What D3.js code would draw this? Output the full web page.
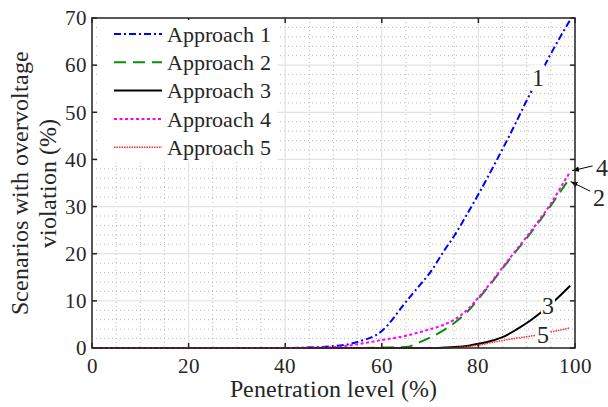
<!DOCTYPE html>
<html>
<head>
<meta charset="utf-8">
<script src="https://cdn.jsdelivr.net/npm/d3@7"></script>
<style>
  @font-face { font-family: 'ChartSerif'; src: local('Liberation Serif'), local('LiberationSerif'), local('LiberationSerif-Regular'); }
  body { margin: 0; background: #fff; }
  #fig svg text { font-family: ChartSerif, 'Liberation Serif', 'Times New Roman', serif; fill: #262626; }
</style>
</head>
<body>
<div id="fig"></div>
<script>
// penetration level (%) sample points
var penetration = [1, 40, 50, 55, 60, 65, 68, 70, 73, 75, 78, 80, 83, 85, 88, 90, 93, 95, 97, 99];

// scenarios with overvoltage violation (%)
var approach1 = [0, 0, 0.4, 1.3, 3.6, 9.8, 13.5, 16, 20.8, 23.8, 29, 32.6, 38.3, 42.2, 48.3, 52.5, 58.5, 62.4, 66.1, 69.6];
var approach2 = [0, 0, 0, 0, 0.1, 0.2, 1.3, 2.2, 3.9, 5.3, 8, 10.4, 14.2, 16.9, 20.8, 23.3, 27.4, 30.2, 33.2, 36.2];
var approach3 = [0, 0, 0, 0, 0, 0, 0, 0, 0.1, 0.2, 0.5, 0.9, 1.6, 2.3, 4, 5.3, 7.6, 9.3, 11.2, 13.2];
var approach4 = [0, 0, 0.2, 0.8, 1.7, 2.6, 3.4, 4, 5, 6, 8.4, 10.7, 14.4, 17.1, 21, 23.6, 27.7, 30.6, 34, 37.4];
var approach5 = [0, 0, 0, 0, 0, 0, 0, 0, 0.05, 0.1, 0.35, 0.6, 1.2, 1.6, 2.1, 2.4, 2.9, 3.4, 3.8, 4.3];

var series_names = ['Approach 1', 'Approach 2', 'Approach 3', 'Approach 4', 'Approach 5'];
var x_ticks = [0, 20, 40, 60, 80, 100];
var y_ticks = [0, 10, 20, 30, 40, 50, 60, 70];

var series = [
  { name: series_names[0], values: approach1, color: '#0000ff', dash: '7,3,2,3', width: 2 },
  { name: series_names[1], values: approach2, color: '#0a8f0a', dash: '12,7', width: 2 },
  { name: series_names[2], values: approach3, color: '#000000', dash: null, width: 2 },
  { name: series_names[3], values: approach4, color: '#ff00ff', dash: '3,2.5', width: 2 },
  { name: series_names[4], values: approach5, color: '#ff2a2a', dash: '1.5,1', width: 1.5 }
];

var chart_width = 608;
var chart_height = 407;
var margin = { top: 18, right: 33, bottom: 59, left: 92 };
var plot_w = chart_width - margin.left - margin.right;
var plot_h = chart_height - margin.top - margin.bottom;

var svg = d3.select('#fig')
  .append('svg')
  .attr('width', chart_width)
  .attr('height', chart_height);

var g = svg.append('g')
  .attr('transform', 'translate(' + margin.left + ',' + margin.top + ')');

var x_scale = d3.scaleLinear().domain([0, 100]).range([0, plot_w]);
var y_scale = d3.scaleLinear().domain([0, 70]).range([plot_h, 0]);

// minor grid (dotted)
g.selectAll('.minor-x')
  .data(d3.range(0, 101, 5).filter(function(d) { return d % 20 !== 0; }))
  .enter().append('line')
  .attr('x1', function(d) { return x_scale(d); })
  .attr('x2', function(d) { return x_scale(d); })
  .attr('y1', 0).attr('y2', plot_h)
  .attr('stroke', '#b8b8b8').attr('stroke-width', 1)
  .attr('stroke-dasharray', '1,3');

g.selectAll('.minor-y')
  .data(d3.range(0, 71, 2).filter(function(d) { return d % 10 !== 0; }))
  .enter().append('line')
  .attr('x1', 0).attr('x2', plot_w)
  .attr('y1', function(d) { return y_scale(d); })
  .attr('y2', function(d) { return y_scale(d); })
  .attr('stroke', '#b8b8b8').attr('stroke-width', 1)
  .attr('stroke-dasharray', '1,3');

// major grid
g.selectAll('.major-x')
  .data(x_ticks)
  .enter().append('line')
  .attr('x1', function(d) { return x_scale(d); })
  .attr('x2', function(d) { return x_scale(d); })
  .attr('y1', 0).attr('y2', plot_h)
  .attr('stroke', '#e3e3e3').attr('stroke-width', 1.2);

g.selectAll('.major-y')
  .data(y_ticks)
  .enter().append('line')
  .attr('x1', 0).attr('x2', plot_w)
  .attr('y1', function(d) { return y_scale(d); })
  .attr('y2', function(d) { return y_scale(d); })
  .attr('stroke', '#e3e3e3').attr('stroke-width', 1.2);

// lines
var line = d3.line()
  .x(function(d, i) { return x_scale(penetration[i]); })
  .y(function(d) { return y_scale(d); })
  .curve(d3.curveMonotoneX);

g.selectAll('.series')
  .data(series)
  .enter().append('path')
  .attr('d', function(d) { return line(d.values); })
  .attr('fill', 'none')
  .attr('stroke', function(d) { return d.color; })
  .attr('stroke-width', function(d) { return d.width; })
  .attr('stroke-dasharray', function(d) { return d.dash; });

// curve labels with white background
var curve_labels = [
  { text: '1', x: 92.3, y: 57.3 },
  { text: '3', x: 94.4, y: 9.1 },
  { text: '5', x: 93.4, y: 2.8 }
];
var lab = g.selectAll('.clabel')
  .data(curve_labels)
  .enter().append('g')
  .attr('transform', function(d) { return 'translate(' + x_scale(d.x) + ',' + y_scale(d.y) + ')'; });
lab.append('rect')
  .attr('x', -7).attr('y', -13).attr('width', 14).attr('height', 26)
  .attr('fill', '#fff');
lab.append('text')
  .text(function(d) { return d.text; })
  .attr('text-anchor', 'middle')
  .attr('dy', '0.35em')
  .attr('font-size', 24);

// arrow labels for 4 and 2
var arrow_labels = [
  { text: '4', x: 105.5, y: 38.2, tx: 99.4, ty: 37.6 },
  { text: '2', x: 105, y: 32, tx: 99.1, ty: 35.3 }
];
svg.append('defs').append('marker')
  .attr('id', 'arrow')
  .attr('viewBox', '0 0 10 10')
  .attr('refX', 10).attr('refY', 5)
  .attr('markerWidth', 7).attr('markerHeight', 7)
  .attr('orient', 'auto')
  .append('path')
  .attr('d', 'M0,1 L10,5 L0,9 z')
  .attr('fill', '#000');

arrow_labels.forEach(function(d) {
  g.append('line')
    .attr('x1', x_scale(d.x) - 9)
    .attr('y1', y_scale(d.y) + (d.text === '4' ? -2 : -6))
    .attr('x2', x_scale(d.tx))
    .attr('y2', y_scale(d.ty))
    .attr('stroke', '#000').attr('stroke-width', 1)
    .attr('marker-end', 'url(#arrow)');
  g.append('text')
    .text(d.text)
    .attr('x', x_scale(d.x))
    .attr('y', y_scale(d.y))
    .attr('text-anchor', 'middle')
    .attr('dy', '0.35em')
    .attr('font-size', 24);
});

// box and ticks
g.append('rect')
  .attr('x', 0).attr('y', 0).attr('width', plot_w).attr('height', plot_h)
  .attr('fill', 'none').attr('stroke', '#262626').attr('stroke-width', 1.5);

x_ticks.forEach(function(t) {
  g.append('line').attr('x1', x_scale(t)).attr('x2', x_scale(t))
    .attr('y1', plot_h).attr('y2', plot_h - 5).attr('stroke', '#262626').attr('stroke-width', 1.5);
  g.append('line').attr('x1', x_scale(t)).attr('x2', x_scale(t))
    .attr('y1', 0).attr('y2', 5).attr('stroke', '#262626').attr('stroke-width', 1.5);
});
y_ticks.forEach(function(t) {
  g.append('line').attr('x1', 0).attr('x2', 5)
    .attr('y1', y_scale(t)).attr('y2', y_scale(t)).attr('stroke', '#262626').attr('stroke-width', 1.5);
  g.append('line').attr('x1', plot_w).attr('x2', plot_w - 5)
    .attr('y1', y_scale(t)).attr('y2', y_scale(t)).attr('stroke', '#262626').attr('stroke-width', 1.5);
});

// tick labels
g.selectAll('.xtl')
  .data(x_ticks)
  .enter().append('text')
  .text(function(d) { return d; })
  .attr('x', function(d) { return x_scale(d); })
  .attr('y', plot_h + 25)
  .attr('text-anchor', 'middle')
  .attr('font-size', 21);

g.selectAll('.ytl')
  .data(y_ticks)
  .enter().append('text')
  .text(function(d) { return d; })
  .attr('x', -5)
  .attr('y', function(d) { return y_scale(d); })
  .attr('dy', '0.35em')
  .attr('text-anchor', 'end')
  .attr('font-size', 21);

// axis titles
svg.append('text')
  .text('Penetration level (%)')
  .attr('x', margin.left + plot_w / 2)
  .attr('y', 397)
  .attr('text-anchor', 'middle')
  .attr('font-size', 24);

var ytitle = svg.append('text')
  .attr('transform', 'translate(28,' + (margin.top + plot_h / 2) + ') rotate(-90)')
  .attr('text-anchor', 'middle')
  .attr('font-size', 24);
ytitle.append('tspan').attr('x', 0).attr('y', 0).text('Scenarios with overvoltage');
ytitle.append('tspan').attr('x', 0).attr('y', 28).text('violation (%)');

// legend
var legend = g.append('g').attr('transform', 'translate(6,2)');
legend.append('rect')
  .attr('x', 0).attr('y', 0).attr('width', 179).attr('height', 141)
  .attr('fill', '#fff');
var items = legend.selectAll('.item')
  .data(series)
  .enter().append('g')
  .attr('transform', function(d, i) { return 'translate(0,' + (14 + i * 28.3) + ')'; });
items.append('line')
  .attr('x1', 16).attr('x2', 64).attr('y1', 0).attr('y2', 0)
  .attr('stroke', function(d) { return d.color; })
  .attr('stroke-width', function(d) { return d.width; })
  .attr('stroke-dasharray', function(d) { return d.dash; });
items.append('text')
  .text(function(d) { return d.name; })
  .attr('x', 69)
  .attr('dy', '0.35em')
  .attr('font-size', 22);
</script>
</body>
</html>
